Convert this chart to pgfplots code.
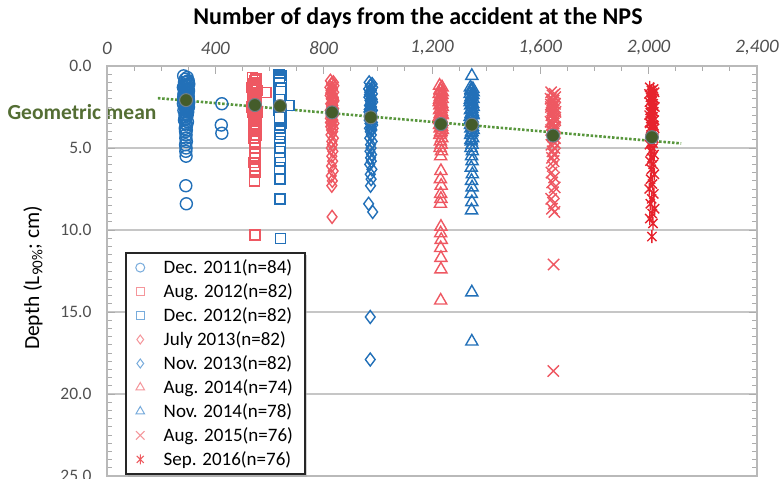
\documentclass[border=0pt]{standalone}
\usepackage{fontspec}
\setmainfont{Carlito}
\usepackage{pgfplots}
\pgfplotsset{compat=1.18}
\usepackage{pgfplotstable}
\usetikzlibrary{shadows}
\definecolor{ptblue}{RGB}{34,112,184}
\definecolor{ptred}{RGB}{238,88,98}
\definecolor{sepred}{RGB}{230,35,45}
\definecolor{lblue}{RGB}{120,172,220}
\definecolor{lred}{RGB}{245,150,155}
\definecolor{lsep}{RGB}{238,90,95}
\definecolor{meanfill}{RGB}{68,92,42}
\definecolor{meanedge}{RGB}{110,128,140}
\definecolor{trend}{RGB}{88,150,60}
\definecolor{geogreen}{RGB}{84,110,52}
\definecolor{labgray}{RGB}{80,80,80}
\pgfdeclareplotmark{xstar}{%
 \pgfpathmoveto{\pgfqpoint{0pt}{\pgfplotmarksize}}%
 \pgfpathlineto{\pgfqpoint{0pt}{-\pgfplotmarksize}}%
 \pgfpathmoveto{\pgfqpoint{-.7071\pgfplotmarksize}{-.7071\pgfplotmarksize}}%
 \pgfpathlineto{\pgfqpoint{.7071\pgfplotmarksize}{.7071\pgfplotmarksize}}%
 \pgfpathmoveto{\pgfqpoint{-.7071\pgfplotmarksize}{.7071\pgfplotmarksize}}%
 \pgfpathlineto{\pgfqpoint{.7071\pgfplotmarksize}{-.7071\pgfplotmarksize}}%
 \pgfusepathqstroke}
\pgfdeclareplotmark{sqr}{%
 \pgfpathmoveto{\pgfqpoint{-\pgfplotmarksize}{-\pgfplotmarksize}}%
 \pgfpathlineto{\pgfqpoint{\pgfplotmarksize}{-\pgfplotmarksize}}%
 \pgfpathlineto{\pgfqpoint{\pgfplotmarksize}{\pgfplotmarksize}}%
 \pgfpathlineto{\pgfqpoint{-\pgfplotmarksize}{\pgfplotmarksize}}%
 \pgfpathclose
 \pgfusepathqstroke}

\pgfplotstableread{
x y
283 0.6
296 0.7
289 0.8
300 0.9
292 1.0
286 1.0
302 1.1
291 1.2
297 1.2
282 1.3
294 1.4
299 1.4
287 1.5
301 1.5
290 1.6
295 1.6
284 1.7
298 1.7
293 1.8
288 1.8
283 1.9
296 1.9
289 2.0
300 2.0
292 2.1
286 2.1
302 2.2
291 2.2
297 2.3
282 2.3
294 2.4
299 2.4
287 2.5
301 2.5
290 2.6
295 2.7
284 2.7
298 2.8
293 2.9
288 3.0
296 3.0
289 3.1
292 3.2
286 3.3
297 3.4
291 3.5
294 3.6
289 3.8
293 3.9
290 4.0
292 4.2
291 4.4
293 4.6
290 4.8
292 5.0
291 5.2
292 5.5
291 7.3
293 8.4
424 2.3
422 3.6
424 4.1
285 1.25
299 1.65
288 2.35
296 2.55
283 2.05
300 1.85
291 1.45
294 2.75
287 1.15
297 0.95
290 3.25
295 2.15
}\tDecA

\pgfplotstableread{
x y
538 0.7
550 0.8
544 0.9
553 1.0
541 1.1
548 1.2
536 1.3
552 1.3
545 1.4
539 1.5
554 1.5
547 1.6
542 1.7
551 1.7
537 1.8
549 1.9
543 1.9
553 2.0
540 2.0
546 2.1
550 2.2
538 2.2
544 2.3
552 2.3
541 2.4
548 2.5
536 2.5
551 2.6
545 2.7
539 2.7
554 2.8
547 2.9
542 3.0
550 3.0
543 3.1
548 3.2
540 3.3
546 3.4
551 3.5
544 3.6
549 3.7
541 3.9
546 4.0
550 4.2
543 4.4
547 4.6
544 4.8
548 5.0
545 5.3
547 5.6
543 5.9
548 6.1
545 6.3
546 6.5
545 7.0
546 10.3
587 1.6
540 1.05
552 1.45
544 1.95
549 2.45
538 2.85
551 3.25
546 2.65
542 1.25
553 2.15
}\tAugA

\pgfplotstableread{
x y
635 0.5
642 0.6
638 0.7
643 0.8
636 0.9
640 1.0
634 1.1
644 1.2
639 1.3
637 1.4
642 1.5
635 1.6
641 1.7
638 1.8
643 1.9
636 2.0
640 2.1
634 2.2
644 2.3
639 2.4
637 2.5
642 2.6
635 2.7
641 2.8
638 2.9
643 3.0
636 3.1
640 3.2
639 3.3
637 3.4
642 3.5
638 3.6
640 3.7
636 3.8
641 3.9
639 4.0
638 4.2
640 4.4
639 4.6
638 4.8
640 5.0
639 5.2
637 5.6
641 5.9
639 6.2
638 6.4
639 6.9
639 8.1
640 10.5
672 2.4
636 1.05
642 1.35
638 1.75
641 2.25
635 2.45
643 2.75
637 3.15
640 1.55
639 2.05
}\tDecB

\pgfplotstableread{
x y
825 0.9
836 1.0
829 1.1
838 1.2
823 1.3
833 1.4
827 1.5
837 1.6
830 1.7
824 1.8
835 1.9
828 2.0
838 2.1
832 2.2
826 2.3
834 2.4
829 2.5
837 2.6
824 2.7
833 2.8
827 2.9
836 3.0
830 3.1
825 3.2
834 3.3
828 3.4
838 3.5
831 3.6
826 3.7
835 3.8
829 3.9
833 4.0
827 4.2
836 4.4
830 4.6
832 4.8
828 5.0
834 5.2
830 5.5
833 5.8
829 6.1
835 6.4
828 6.7
832 7.0
830 7.3
831 9.2
832 1.35
826 1.65
836 1.95
829 2.35
834 2.65
827 3.05
837 2.15
830 2.75
825 3.45
}\tJul

\pgfplotstableread{
x y
968 1.0
979 1.1
972 1.2
981 1.3
966 1.4
976 1.5
970 1.6
980 1.7
973 1.8
967 1.9
978 2.0
971 2.1
981 2.2
975 2.3
969 2.4
977 2.5
972 2.6
980 2.7
967 2.8
976 2.9
970 3.0
979 3.1
973 3.2
968 3.3
977 3.4
971 3.5
981 3.6
974 3.7
969 3.8
978 3.9
972 4.0
976 4.2
970 4.4
979 4.6
973 4.8
975 5.0
971 5.2
977 5.4
973 5.6
976 5.8
970 6.0
978 6.3
972 6.6
975 6.9
973 7.3
966 8.4
981 8.9
972 15.3
972 17.9
975 1.45
969 1.75
979 2.05
972 2.45
977 2.75
970 3.15
980 3.45
974 2.25
968 2.65
976 3.85
}\tNovA

\pgfplotstableread{
x y
1228 1.2
1237 1.3
1231 1.5
1238 1.6
1227 1.7
1234 1.8
1230 1.9
1237 2.0
1232 2.1
1227 2.2
1236 2.3
1229 2.4
1238 2.5
1233 2.6
1228 2.7
1235 2.8
1231 2.9
1237 3.0
1227 3.1
1234 3.2
1229 3.3
1236 3.4
1232 3.5
1228 3.6
1235 3.7
1230 3.8
1238 3.9
1233 4.0
1229 4.2
1236 4.4
1231 4.6
1234 4.8
1230 5.0
1235 5.2
1232 5.5
1233 6.4
1231 6.9
1234 7.3
1232 7.8
1233 8.1
1231 8.4
1233 9.8
1232 10.2
1234 10.6
1232 11.1
1233 11.7
1233 12.4
1232 14.3
1230 1.45
1236 1.75
1228 2.05
1234 2.35
1231 2.65
1237 2.95
1229 3.25
1235 3.55
1232 4.1
}\tAugB

\pgfplotstableread{
x y
1347 0.6
1342 1.3
1351 1.4
1345 1.5
1352 1.6
1341 1.7
1348 1.8
1344 1.9
1351 2.0
1346 2.1
1341 2.2
1350 2.3
1343 2.4
1352 2.5
1347 2.6
1342 2.7
1349 2.8
1345 2.9
1351 3.0
1341 3.1
1348 3.2
1343 3.3
1350 3.4
1346 3.5
1342 3.6
1349 3.7
1344 3.8
1352 3.9
1347 4.0
1343 4.2
1350 4.4
1345 4.6
1348 4.8
1344 5.0
1349 5.2
1346 5.5
1348 5.8
1345 6.2
1349 6.6
1346 7.0
1348 7.4
1345 7.8
1347 8.3
1346 8.8
1347 13.8
1347 16.8
1344 1.45
1350 1.75
1342 2.05
1348 2.35
1345 2.65
1351 2.95
1343 3.25
1349 3.55
1346 4.1
1344 4.5
}\tNovB

\pgfplotstableread{
x y
1640 1.6
1653 1.7
1645 1.8
1655 1.9
1638 2.0
1649 2.1
1643 2.2
1654 2.3
1646 2.4
1639 2.5
1652 2.6
1644 2.7
1656 2.8
1648 2.9
1641 3.0
1651 3.1
1645 3.2
1655 3.3
1638 3.4
1649 3.5
1643 3.6
1653 3.7
1647 3.8
1640 3.9
1651 4.0
1644 4.2
1654 4.4
1648 4.6
1641 4.8
1652 5.0
1645 5.2
1650 5.4
1643 5.6
1649 5.8
1646 6.1
1641 6.5
1651 6.8
1644 7.1
1653 7.4
1647 7.7
1640 8.1
1650 8.4
1643 8.7
1652 8.9
1649 12.1
1648 18.6
1646 2.05
1650 2.45
1642 2.85
1655 3.15
1644 3.45
1652 3.85
1647 4.3
1639 2.35
1654 4.7
}\tAugC

\pgfplotstableread{
x y
2004 1.3
2018 1.4
2010 1.5
2022 1.6
2001 1.7
2014 1.8
2007 1.9
2020 2.0
2012 2.1
2003 2.2
2017 2.3
2009 2.4
2023 2.5
2013 2.6
2005 2.7
2019 2.8
2011 2.9
2002 3.0
2016 3.1
2008 3.2
2021 3.3
2012 3.4
2004 3.5
2018 3.6
2010 3.7
2022 3.8
2006 3.9
2015 4.0
2009 4.2
2019 4.4
2011 4.6
2003 4.8
2016 5.0
2008 5.2
2020 5.4
2012 5.6
2005 5.8
2017 6.0
2010 6.3
2021 6.6
2007 6.9
2014 7.2
2002 7.5
2019 7.8
2011 8.1
2006 8.4
2022 8.7
2013 9.0
2004 9.3
2016 9.6
2012 10.4
2010 2.05
2018 2.45
2006 2.85
2014 3.25
2020 3.65
2008 4.3
2016 4.7
2013 1.65
2003 3.45
}\tSep

\pgfplotstableread{
x y
292 2.08
546 2.38
639 2.44
831 2.83
974 3.13
1233 3.54
1347 3.58
1647 4.24
2012 4.34
}\tMean

\begin{document}
\begin{tikzpicture}
\path[use as bounding box] (0,0) rectangle (779bp,-479bp);
\node[font=\fontsize{24bp}{24bp}\selectfont\bfseries] at (418bp,-18bp) {Number of days from the accident at the NPS};
\node[rotate=90, font=\fontsize{21.5bp}{21.5bp}\selectfont] at (33bp,-278bp) {Depth (L\textsubscript{90\%}; cm)};
\node[font=\fontsize{21.5bp}{21.5bp}\selectfont\bfseries, text=geogreen] at (82bp,-112bp) {Geometric mean};
\begin{axis}[
  at={(432bp,-271bp)}, anchor=center,
  scale only axis, width=650bp, height=410bp,
  xmin=0, xmax=2400, ymin=0, ymax=25, y dir=reverse,
  xtick={0,400,...,2400}, minor x tick num=3,
  ytick={0,5,...,25}, minor y tick num=9,
  xtick pos=upper, xticklabel pos=upper,
  ytick pos=both, yticklabel pos=left,
  tick align=inside,
  major tick length=8bp, minor tick length=5bp,
  axis line style={draw=gray!55, line width=1.2bp},
  every tick/.style={draw=gray!65, line width=1bp},
  ymajorgrids, grid style={draw=gray!45, line width=1.5bp},
  /pgf/number format/assume math mode=true,
  yticklabel style={/pgf/number format/fixed, /pgf/number format/fixed zerofill, /pgf/number format/precision=1, font=\fontsize{17.5bp}{17bp}\selectfont, text=labgray, xshift=-12bp},
  xticklabel style={font=\fontsize{19bp}{19bp}\selectfont\itshape, text=labgray, yshift=8bp},
  legend style={at={(0.0277,0.546)}, anchor=north west, draw=black!85, line width=1.5bp, fill=white,
    drop shadow={shadow xshift=2.5bp, shadow yshift=-2.5bp, fill=gray!70},
    font=\fontsize{19bp}{22bp}\selectfont, row sep=4.6bp, inner xsep=10bp, inner ysep=5bp,
    /tikz/every odd column/.style={column sep=17bp}},
  legend cell align=left,
]
\addplot[forget plot, only marks, mark=o, mark size=6bp, color=ptblue, line width=1.4bp] table[x=x,y=y] {\tDecA};
\addplot[forget plot, only marks, mark=sqr, mark size=5bp, color=ptred, line width=1.4bp] table[x=x,y=y] {\tAugA};
\addplot[forget plot, only marks, mark=square*, mark size=5bp, color=ptblue, mark options={fill=white, draw=ptblue}, line width=1.4bp] table[x=x,y=y] {\tDecB};
\addplot[forget plot, only marks, mark=diamond, mark size=6.5bp, color=ptred, line width=1.4bp] table[x=x,y=y] {\tJul};
\addplot[forget plot, only marks, mark=diamond, mark size=6.5bp, color=ptblue, line width=1.4bp] table[x=x,y=y] {\tNovA};
\addplot[forget plot, only marks, mark=triangle, mark size=7bp, color=ptred, line width=1.4bp] table[x=x,y=y] {\tAugB};
\addplot[forget plot, only marks, mark=triangle, mark size=7bp, color=ptblue, line width=1.4bp] table[x=x,y=y] {\tNovB};
\addplot[forget plot, only marks, mark=x, mark size=8bp, color=ptred, line width=1.4bp] table[x=x,y=y] {\tAugC};
\addplot[forget plot, only marks, mark=xstar, mark size=6.5bp, color=sepred, line width=1.4bp] table[x=x,y=y] {\tSep};
\addplot[forget plot, trend, line width=2.6bp, dash pattern=on 2.5bp off 1.8bp] coordinates {(188,1.96) (2120,4.72)};
\addplot[forget plot, only marks, mark=*, mark size=6.5bp, fill=meanfill, draw=meanedge, line width=1bp] table[x=x,y=y] {\tMean};
\addlegendimage{only marks, mark=o, mark size=4.5bp, color=lblue, line width=1bp}
\addlegendentry{Dec. 2011(n=84)\hspace{11bp}}
\addlegendimage{only marks, mark=sqr, mark size=4bp, color=lred, line width=1bp}
\addlegendentry{Aug. 2012(n=82)}
\addlegendimage{only marks, mark=sqr, mark size=4bp, color=lblue, line width=1bp}
\addlegendentry{Dec. 2012(n=82)}
\addlegendimage{only marks, mark=diamond, mark size=4.5bp, color=lred, line width=1bp}
\addlegendentry{July 2013(n=82)}
\addlegendimage{only marks, mark=diamond, mark size=4.5bp, color=lblue, line width=1bp}
\addlegendentry{Nov. 2013(n=82)}
\addlegendimage{only marks, mark=triangle, mark size=5bp, color=lred, line width=1bp}
\addlegendentry{Aug. 2014(n=74)}
\addlegendimage{only marks, mark=triangle, mark size=5bp, color=lblue, line width=1bp}
\addlegendentry{Nov. 2014(n=78)}
\addlegendimage{only marks, mark=x, mark size=6bp, color=lred, line width=1bp}
\addlegendentry{Aug. 2015(n=76)}
\addlegendimage{only marks, mark=xstar, mark size=5bp, color=lsep, line width=1bp}
\addlegendentry{Sep. 2016(n=76)}
\end{axis}
\end{tikzpicture}
\end{document}
